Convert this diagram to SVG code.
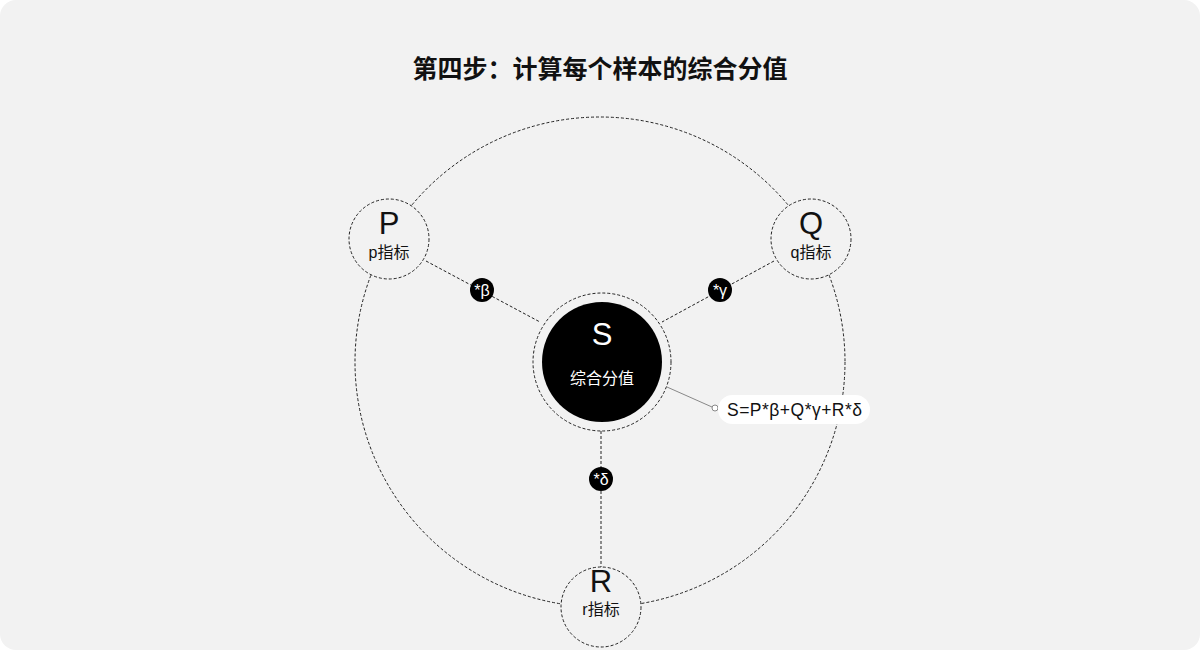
<svg xmlns="http://www.w3.org/2000/svg" width="1200" height="650" viewBox="0 0 1200 650">
<defs>
<style>
.dash{fill:none;stroke:#222;stroke-width:1;stroke-dasharray:3 2}
.node{fill:#f2f2f2;stroke:#222;stroke-width:1;stroke-dasharray:3 2}
.big{font-family:"Liberation Sans","Noto Sans CJK SC",sans-serif;font-size:31px;fill:#111;text-anchor:middle}
.sub{font-family:"Liberation Sans","Noto Sans CJK SC",sans-serif;font-size:16px;fill:#111;text-anchor:middle}
.badge{fill:#000}
.bt{font-family:"Liberation Sans","Noto Sans CJK SC",sans-serif;font-size:16px;fill:#fff;text-anchor:middle}
</style>
</defs>
<rect x="0" y="0" width="1200" height="650" fill="#ffffff"/>
<rect x="0" y="0" width="1200" height="650" rx="16" fill="#f2f2f2"/>
<text x="600" y="78" font-family="'Noto Sans CJK SC',sans-serif" font-size="25" font-weight="bold" fill="#111" text-anchor="middle">第四步：计算每个样本的综合分值</text>
<g id="connectors">
<circle cx="600" cy="362" r="245" class="dash"/>
<line x1="426" y1="261" x2="540" y2="322" class="dash"/>
<line x1="774" y1="261" x2="662" y2="322" class="dash"/>
<line x1="601" y1="431" x2="601" y2="567" class="dash"/>
<line x1="667" y1="387" x2="712" y2="407" stroke="#888" stroke-width="1"/>
<circle cx="715" cy="408" r="3" fill="#fff" stroke="#888" stroke-width="1"/>
</g>
<g id="P">
<circle cx="389" cy="239" r="40" class="node"/>
<text x="389" y="234" class="big">P</text>
<text x="389" y="258" class="sub">p指标</text>
</g>
<g id="Q">
<circle cx="811" cy="239" r="40" class="node"/>
<text x="811" y="234" class="big">Q</text>
<text x="811" y="258" class="sub">q指标</text>
</g>
<g id="R">
<circle cx="601" cy="607" r="40" class="node"/>
<text x="601" y="592" class="big">R</text>
<text x="601" y="615" class="sub">r指标</text>
</g>
<g id="S">
<circle cx="602" cy="362" r="69" class="node"/>
<circle cx="602" cy="362" r="60" fill="#000"/>
<text x="602" y="345" class="big" style="fill:#fff">S</text>
<text x="602" y="384" class="sub" style="fill:#fff">综合分值</text>
</g>
<g id="beta">
<circle cx="482" cy="290" r="12" class="badge"/>
<text x="482" y="296" class="bt">*β</text>
</g>
<g id="gamma">
<circle cx="720" cy="290" r="12" class="badge"/>
<text x="720" y="296" class="bt">*γ</text>
</g>
<g id="delta">
<circle cx="601" cy="479" r="12" class="badge"/>
<text x="601" y="485" class="bt">*δ</text>
</g>
<g id="formula">
<rect x="718" y="395" width="152" height="29" rx="14.5" fill="#fff"/>
<text x="727" y="416" font-family="'Liberation Sans','Noto Sans CJK SC',sans-serif" font-size="17.5" fill="#111" textLength="135">S=P*β+Q*γ+R*δ</text>
</g>
</svg>
